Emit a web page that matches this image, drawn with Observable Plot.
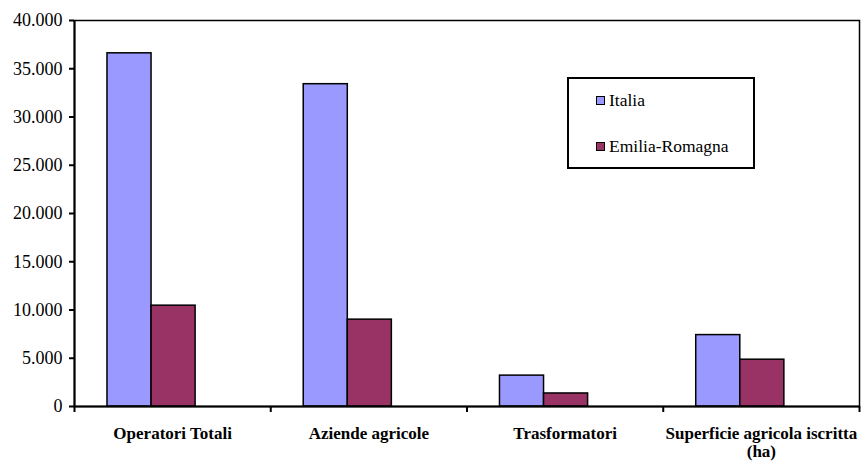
<!DOCTYPE html>
<html>
<head>
<meta charset="utf-8">
<script src="https://cdn.jsdelivr.net/npm/d3@7"></script>
<script src="https://cdn.jsdelivr.net/npm/@observablehq/plot@0.6"></script>
<style>
  html, body { margin: 0; padding: 0; background: #fff; }
  #wrap { position: relative; width: 861px; height: 461px; font-family: "Liberation Serif", "DejaVu Serif", serif; }
  #legend { position: absolute; left: 567px; top: 77px; width: 184px; height: 88px; border: 2px solid #000; background: #fff; }
  .item { position: absolute; left: 27px; display: flex; align-items: center; font-size: 17.5px; color: #000; }
  .sw { width: 7px; height: 7px; border: 1.5px solid #000; margin-right: 4px; }
</style>
</head>
<body>
<div id="wrap"></div>
<script>
const categories = ["Operatori Totali", "Aziende agricole", "Trasformatori", "Superficie agricola iscritta (ha)"];
const seriesNames = ["Italia", "Emilia-Romagna"];
const italia = [36600, 33400, 3200, 7400];
const emilia = [10450, 9000, 1350, 4850];
const colors = ["#9999FF", "#993366"];
const yTicks = [0, 5000, 10000, 15000, 20000, 25000, 30000, 35000, 40000];

const data = [];
categories.forEach((c, i) => {
  data.push({cat: c, i, series: seriesNames[0], value: italia[i]});
  data.push({cat: c, i, series: seriesNames[1], value: emilia[i]});
});

// position of each series inside a category slot (slot = 1 unit on x)
const inner = d3.scaleBand().domain(seriesNames).range([0, 1])
  .paddingInner(0).paddingOuter(1.227).align(0.305);

const itFmt = d3.formatLocale({decimal: ",", thousands: ".", grouping: [3], currency: ["€", ""]}).format(",d");

const FONT = "'Liberation Serif', 'DejaVu Serif', serif";

const chart = Plot.plot({
  width: 861,
  height: 461,
  marginTop: 20,
  marginBottom: 55,
  marginLeft: 74,
  marginRight: 2,
  style: {fontFamily: FONT, fontSize: "17px", color: "#000", background: "#fff"},
  x: {domain: [0, categories.length], label: null},
  y: {domain: [0, 40000], label: null},
  color: {domain: seriesNames, range: colors},
  marks: [
    Plot.frame({stroke: "#000", strokeWidth: 1.5}),
    Plot.rectY(data, {
      x1: d => d.i + inner(d.series),
      x2: d => d.i + inner(d.series) + inner.bandwidth(),
      y: "value",
      fill: "series",
      stroke: "#000",
      strokeWidth: 1.5
    }),
    Plot.axisY({ticks: yTicks, tickFormat: itFmt, tickSize: 5, tickPadding: 7, strokeWidth: 2, fontSize: 18, fontFamily: FONT, label: null}),
    Plot.ruleX([0], {stroke: "#000", strokeWidth: 2}),
    Plot.ruleY([0], {stroke: "#000", strokeWidth: 2}),
    Plot.axisX({ticks: d3.range(categories.length + 1), tickFormat: () => "", tickSize: 6, strokeWidth: 2, label: null}),
    Plot.axisX({
      ticks: categories.map((c, i) => i + 0.5),
      tickFormat: t => categories[Math.floor(t)].replace(" (ha)", "\n(ha)"),
      tickSize: 0,
      tickPadding: 19,
      fontWeight: "bold",
      fontSize: 17,
      fontFamily: FONT,
      lineHeight: 1.1,
      label: null
    })
  ]
});

const wrap = document.getElementById("wrap");
wrap.appendChild(chart);

const legend = document.createElement("div");
legend.id = "legend";
seriesNames.forEach((s, k) => {
  const it = document.createElement("div");
  it.className = "item";
  it.style.top = (k === 0 ? 11 : 57) + "px";
  const sw = document.createElement("div");
  sw.className = "sw";
  sw.style.background = colors[k];
  const tx = document.createElement("span");
  tx.textContent = s;
  it.appendChild(sw);
  it.appendChild(tx);
  legend.appendChild(it);
});
wrap.appendChild(legend);
</script>
</body>
</html>
